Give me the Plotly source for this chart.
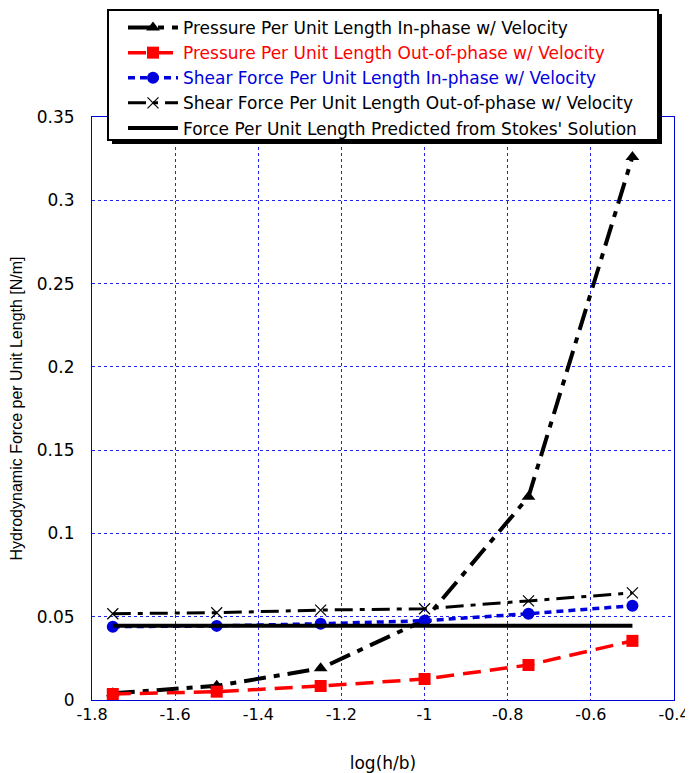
import plotly.graph_objects as go

x_vals = [-1.75, -1.5, -1.25, -1.0, -0.75, -0.5]
pressure_in = [0.004, 0.0085, 0.019, 0.048, 0.122, 0.326]
pressure_out = [0.0036, 0.005, 0.0084, 0.0126, 0.021, 0.0355]
shear_in = [0.044, 0.0445, 0.0458, 0.0476, 0.0518, 0.0566]
shear_out = [0.0518, 0.0524, 0.054, 0.0548, 0.0595, 0.0643]
stokes = [0.0446, 0.0446, 0.0446, 0.0446, 0.0446, 0.0446]

names = [
    "Pressure Per Unit Length In-phase w/ Velocity",
    "<span style='color:#ff0000'>Pressure Per Unit Length Out-of-phase w/ Velocity</span>",
    "<span style='color:#0000dd'>Shear Force Per Unit Length In-phase w/ Velocity</span>",
    "Shear Force Per Unit Length Out-of-phase w/ Velocity",
    "Force Per Unit Length Predicted from Stokes' Solution",
]

x_ticks = [-1.8, -1.6, -1.4, -1.2, -1.0, -0.8, -0.6, -0.4]
x_ticklabels = ["-1.8", "-1.6", "-1.4", "-1.2", "-1", "-0.8", "-0.6", "-0.4"]
y_ticks = [0, 0.05, 0.1, 0.15, 0.2, 0.25, 0.3, 0.35]
y_ticklabels = ["0", "0.05", "0.1", "0.15", "0.2", "0.25", "0.3", "0.35"]

FONT = "DejaVu Sans, Liberation Sans, sans-serif"

# plot area in page pixels (page body has an 8px offset)
PL, PR, PT, PB = 92, 674, 117, 700
PW, PH = PR - PL, PB - PT


def px(x):
    return (x - PL) / PW


def py(y):
    return (PB - y) / PH


fig = go.Figure()
fig.add_trace(go.Scatter(x=x_vals, y=pressure_in, name=names[0], mode="lines+markers",
                         line=dict(color="black", width=4, dash="22px,8px,6px,8px"),
                         marker=dict(symbol="triangle-up", size=12, color="black")))
fig.add_trace(go.Scatter(x=x_vals, y=pressure_out, name=names[1], mode="lines+markers",
                         line=dict(color="#ff0000", width=3.5, dash="18px,9px"),
                         marker=dict(symbol="square", size=12, color="#ff0000")))
fig.add_trace(go.Scatter(x=x_vals, y=shear_in, name=names[2], mode="lines+markers",
                         line=dict(color="#0000dd", width=3.5, dash="7px,5px"),
                         marker=dict(symbol="circle", size=12, color="#0000dd")))
fig.add_trace(go.Scatter(x=x_vals, y=shear_out, name=names[3], mode="lines+markers",
                         line=dict(color="black", width=3, dash="18px,7px,5px,7px"),
                         marker=dict(symbol="x-thin", size=11, color="black",
                                     line=dict(color="black", width=1.2))))
fig.add_trace(go.Scatter(x=x_vals, y=stokes, name=names[4], mode="lines",
                         line=dict(color="black", width=4)))

# legend shadow and box
fig.add_shape(type="rect", xref="paper", yref="paper",
              x0=px(112), x1=px(662), y0=py(144), y1=py(14),
              fillcolor="black", line=dict(width=0), layer="above")
fig.add_shape(type="rect", xref="paper", yref="paper",
              x0=px(108), x1=px(658), y0=py(140), y1=py(10),
              fillcolor="white", line=dict(color="black", width=2), layer="above")

fig.update_layout(
    width=685, height=765,
    margin=dict(l=PL - 8, r=693 - PR - 8 + 8, t=PT - 8, b=773 - PB, autoexpand=False),
    paper_bgcolor="white", plot_bgcolor="white",
    font=dict(family=FONT, size=17, color="black"),
    showlegend=True,
    legend=dict(x=px(123), y=py(10), xanchor="left", yanchor="top",
                bgcolor="rgba(0,0,0,0)", borderwidth=0,
                font=dict(size=17, family=FONT), tracegroupgap=0, itemwidth=50),
    xaxis=dict(range=[-1.8, -0.4], tickvals=x_ticks, ticktext=x_ticklabels,
               showgrid=True, gridcolor="#2222ee", griddash="dot", gridwidth=1,
               showline=True, linecolor="#0000dd", linewidth=1, mirror=True,
               zeroline=False, ticks="", tickfont=dict(size=16), automargin=False,
               title=dict(text="log(h/b)", font=dict(size=17), standoff=34)),
    yaxis=dict(range=[0, 0.35], tickvals=y_ticks, ticktext=y_ticklabels,
               showgrid=True, gridcolor="#2222ee", griddash="dot", gridwidth=1,
               showline=True, linecolor="#0000dd", linewidth=1, mirror=True,
               zeroline=False, ticks="outside", ticklen=13, tickcolor="rgba(0,0,0,0)",
               tickfont=dict(size=17), automargin=False,
               title=dict(text="Hydrodynamic Force per Unit Length [N/m]",
                          font=dict(size=16, family="Liberation Sans, Arial, sans-serif"),
                          standoff=12)),
)

fig.write_html("out.html")
